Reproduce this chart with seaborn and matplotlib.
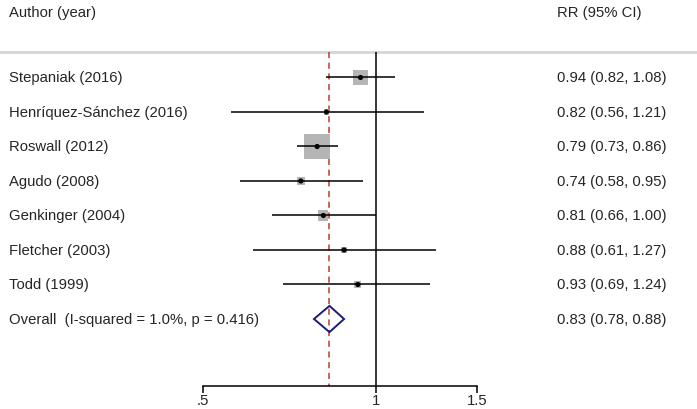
import numpy as np
import matplotlib
matplotlib.use("Agg")
import matplotlib.pyplot as plt
import seaborn as sns

# Study data
studies = ["Stepaniak (2016)", "Henríquez-Sánchez (2016)", "Roswall (2012)",
           "Agudo (2008)", "Genkinger (2004)", "Fletcher (2003)", "Todd (1999)"]
rr = [0.94, 0.82, 0.79, 0.74, 0.81, 0.88, 0.93]
lower = [0.82, 0.56, 0.73, 0.58, 0.66, 0.61, 0.69]
upper = [1.08, 1.21, 0.86, 0.95, 1.00, 1.27, 1.24]
weights = [19.8, 2.5, 55.8, 6.1, 8.7, 2.8, 4.4]  # percent weight (box area)

overall_label = "Overall  (I-squared = 1.0%, p = 0.416)"
overall_rr, overall_lo, overall_hi = 0.83, 0.78, 0.88

tick_values = [0.5, 1, 1.5]
tick_labels = [".5", "1", "1.5"]

sns.set_theme(style="white")
plt.rcParams["font.family"] = ["Liberation Sans", "DejaVu Sans"]
FS = 10.7

fig = plt.figure(figsize=(6.97, 4.1), dpi=100)
ax = fig.add_axes([0, 0, 1, 1])
ax.set_xscale("log")
ax.set_xlim(0.2217, 3.619)
ax.set_ylim(9.609, -2.275)

rows = np.arange(len(studies))
top_row = -0.74
axis_row = 8.94

# header separator
ax.axhline(top_row, color="#d4d4d4", lw=2, zorder=1)

# reference lines
ax.vlines(1, top_row, axis_row, color="black", lw=1.1, zorder=2)
ax.vlines(overall_rr, top_row, axis_row, color="#c0392b", lw=1.1,
          linestyles=(0, (4, 3)), zorder=2)

# boxes (area proportional to weight)
side_px = 3.45 * np.sqrt(weights)
side_pt = side_px * 72 / 100
sns.scatterplot(x=rr, y=rows, s=side_pt ** 2, marker="s", color="#b5b5b5",
                edgecolor="none", linewidth=0, ax=ax, zorder=3, legend=False)

# confidence intervals
ax.hlines(rows, lower, upper, color="black", lw=1.1, zorder=4)

# point estimates
sns.scatterplot(x=rr, y=rows, s=14, marker="o", color="black",
                edgecolor="none", ax=ax, zorder=5, legend=False)

# overall diamond
oy = len(studies)
ax.fill([overall_lo, overall_rr, overall_hi, overall_rr],
        [oy, oy - 0.38, oy, oy + 0.38],
        facecolor="none", edgecolor="#1b1b7a", lw=1.4, zorder=5)

# text columns
tr = matplotlib.transforms.blended_transform_factory(ax.transAxes, ax.transData)
ax.text(9 / 697, -1.9, "Author (year)", transform=tr, fontsize=FS,
        va="center", ha="left")
ax.text(557 / 697, -1.9, "RR (95% CI)", transform=tr, fontsize=FS,
        va="center", ha="left")
for i, name in enumerate(studies):
    ax.text(9 / 697, i, name, transform=tr, fontsize=FS, va="center", ha="left")
    ax.text(557 / 697, i, f"{rr[i]:.2f} ({lower[i]:.2f}, {upper[i]:.2f})",
            transform=tr, fontsize=FS, va="center", ha="left")
ax.text(9 / 697, oy, overall_label, transform=tr, fontsize=FS,
        va="center", ha="left")
ax.text(557 / 697, oy, f"{overall_rr:.2f} ({overall_lo:.2f}, {overall_hi:.2f})",
        transform=tr, fontsize=FS, va="center", ha="left")

# x axis
for side in ["top", "left", "right"]:
    ax.spines[side].set_visible(False)
ax.spines["bottom"].set_position(("data", axis_row))
ax.spines["bottom"].set_bounds(tick_values[0], tick_values[-1])
ax.spines["bottom"].set_color("black")
ax.spines["bottom"].set_linewidth(1.1)
ax.set_xticks(tick_values)
ax.set_xticklabels(tick_labels)
ax.xaxis.set_minor_locator(matplotlib.ticker.NullLocator())
ax.tick_params(axis="x", direction="out", length=5, width=1.1, color="black",
               pad=0, labelsize=FS, bottom=True)
ax.set_yticks([])
ax.set_xlabel("")
ax.set_ylabel("")
ax.patch.set_alpha(0)

fig.savefig("out.png", dpi=100)
